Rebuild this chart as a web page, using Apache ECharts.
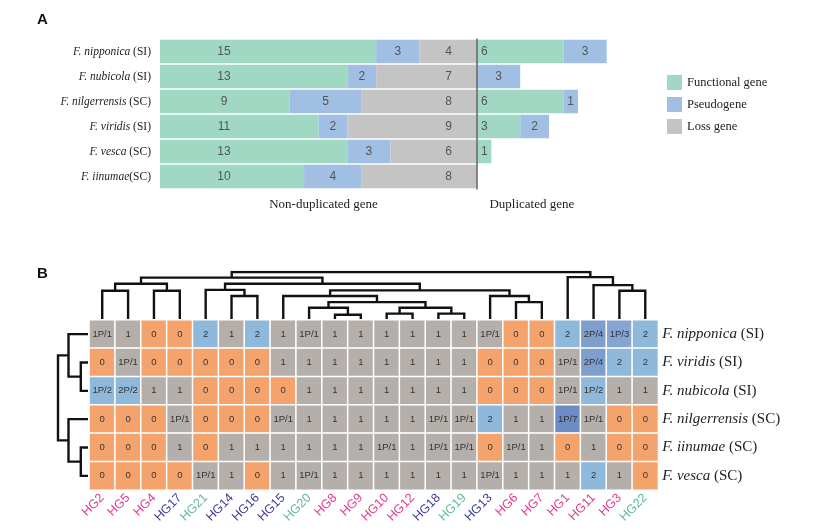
<!DOCTYPE html>
<html><head><meta charset="utf-8">
<script src="https://cdn.jsdelivr.net/npm/echarts@6/dist/echarts.min.js"></script>
<style>html,body{margin:0;padding:0;background:#fff}#c{width:815px;height:531px}</style>
</head><body><div id="c"></div>
<script>
// ---------- Panel A data ----------
const speciesA = ['F. nipponica (SI)', 'F. nubicola (SI)', 'F. nilgerrensis (SC)', 'F. viridis (SI)', 'F. vesca (SC)', 'F. iinumae(SC)'];
const nonDupFunctional = [15, 13, 9, 11, 13, 10];
const nonDupPseudo = [3, 2, 5, 2, 3, 4];
const nonDupLoss = [4, 7, 8, 9, 6, 8];
const dupFunctional = [6, 0, 6, 3, 1, 0];
const dupPseudo = [3, 3, 1, 2, 0, 0];
const legendNames = ['Functional gene', 'Pseudogene', 'Loss gene'];

// ---------- Panel B data ----------
const hgLabels = ['HG2','HG5','HG4','HG17','HG21','HG14','HG16','HG15','HG20','HG8','HG9','HG10','HG12','HG18','HG19','HG13','HG6','HG7','HG1','HG11','HG3','HG22'];
const hgGroup = ['p','p','p','n','g','n','n','n','g','p','p','p','p','n','g','n','p','p','p','p','p','g'];
const speciesB = ['F. nipponica (SI)', 'F. viridis (SI)', 'F. nubicola (SI)', 'F. nilgerrensis (SC)', 'F. iinumae (SC)', 'F. vesca (SC)'];
const rowNipponica    = ['1P/1','1','0','0','2','1','2','1','1P/1','1','1','1','1','1','1','1P/1','0','0','2','2P/4','1P/3','2'];
const rowViridis      = ['0','1P/1','0','0','0','0','0','1','1','1','1','1','1','1','1','0','0','0','1P/1','2P/4','2','2'];
const rowNubicola     = ['1P/2','2P/2','1','1','0','0','0','0','1','1','1','1','1','1','1','0','0','0','1P/1','1P/2','1','1'];
const rowNilgerrensis = ['0','0','0','1P/1','0','0','0','1P/1','1','1','1','1','1','1P/1','1P/1','2','1','1','1P/7','1P/1','0','0'];
const rowIinumae      = ['0','0','0','1','0','1','1','1','1','1','1','1P/1','1','1P/1','1P/1','0','1P/1','1','0','1','0','0'];
const rowVesca        = ['0','0','0','0','1P/1','1','0','1','1P/1','1','1','1','1','1','1','1P/1','1','1','1','2','1','0'];
const cellRows = [rowNipponica, rowViridis, rowNubicola, rowNilgerrensis, rowIinumae, rowVesca];

// column dendrogram merges: [child, child, height]; leaves 0..21, merged nodes numbered from 22
const colMerges = [
  [9,10,0.9],[11,12,1.15],[13,14,1.15],[8,22,2.4],[23,24,2.4],[25,26,3.6],[16,17,3.6],
  [7,27,4.9],[15,28,4.9],[5,6,4.9],[0,1,6.0],[2,3,6.0],[20,21,6.0],[29,30,6.1],
  [4,31,6.2],[19,34,7.2],[32,33,7.5],[36,35,7.5],[38,39,8.8],[18,37,8.9],[40,41,10]
];
// row dendrogram merges: leaves 0..5, merged nodes from 6
const rowMerges = [[1,2,2.4],[4,5,2.4],[0,6,6.5],[3,7,6.5],[8,9,10]];

// ---------- helpers ----------
const C_FUN = '#a0d8c4', C_PSE = '#a1bfe2', C_LOSS = '#c4c4c4';
function dendroLines(merges, nLeaves, horizontal) {
  const pos = [], ht = [];
  for (let i = 0; i < nLeaves; i++) { pos.push(i); ht.push(0); }
  const out = [];
  merges.forEach(m => {
    const [a, b, h] = m;
    const pa = pos[a], pb = pos[b];
    const pts = [[pa, ht[a]], [pa, h], [pb, h], [pb, ht[b]]];
    out.push({coords: horizontal ? pts.map(p => [p[1], p[0]]) : pts});
    pos.push((pa + pb) / 2); ht.push(h);
  });
  return out;
}
function countOf(s) { return s.indexOf('/') >= 0 ? +s.split('/')[1] : +s; }
const heatData = [];
cellRows.forEach((row, r) => row.forEach((s, c) => heatData.push([c, r, countOf(s), s])));
const groupColor = {p: '#e2378f', n: '#3a3c98', g: '#5dbb92'};

const serif = 'Liberation Serif';
function speciesRich(size) {
  return {
    formatter: v => { const i = v.search(/\s?\(/); return '{i|' + v.slice(0, i) + '}{n|' + v.slice(i) + '}'; },
    rich: {
      i: {fontFamily: serif, fontStyle: 'italic', fontSize: size, color: '#222'},
      n: {fontFamily: serif, fontSize: size, color: '#222'}
    }
  };
}
const hiddenVal = (g, extra) => Object.assign({type: 'value', gridIndex: g, show: false, splitLine: {show: false}}, extra || {});
const barLabel = (pos, extra) => Object.assign({show: true, position: pos, color: '#555', fontSize: 12, fontFamily: 'Liberation Sans',
  formatter: p => p.value ? p.value : ''}, extra || {});

const chart = echarts.init(document.getElementById('c'));
chart.setOption({
  animation: false,
  title: [
    {text: 'A', left: 32, top: 7, textStyle: {fontSize: 15, fontWeight: 'bold', color: '#111', fontFamily: 'Liberation Sans'}},
    {text: 'B', left: 32, top: 261, textStyle: {fontSize: 15, fontWeight: 'bold', color: '#111', fontFamily: 'Liberation Sans'}}
  ],
  legend: {
    orient: 'vertical', left: 662, top: 70, itemWidth: 15, itemHeight: 15, itemGap: 7, icon: 'rect',
    data: legendNames, textStyle: {fontFamily: serif, fontSize: 12.5, color: '#222'}
  },
  grid: [
    {left: 160, top: 39, width: 317, height: 150},
    {left: 477, top: 39, width: 129.7, height: 150},
    {left: 89.3, top: 272, width: 568.9, height: 47},
    {left: 58, top: 320, width: 30, height: 170},
    {left: 89.3, top: 320, width: 568.9, height: 170}
  ],
  xAxis: [
    {type: 'value', gridIndex: 0, min: 0, max: 22, axisLine: {show: false}, axisTick: {show: false}, axisLabel: {show: false}, splitLine: {show: false},
     name: 'Non-duplicated gene', nameLocation: 'middle', nameGap: 9, nameTextStyle: {fontFamily: serif, fontSize: 13, color: '#222', padding: [0, 0, 0, 10]}},
    {type: 'value', gridIndex: 1, min: 0, max: 9, axisLine: {show: false}, axisTick: {show: false}, axisLabel: {show: false}, splitLine: {show: false},
     name: 'Duplicated gene', nameLocation: 'middle', nameGap: 9, nameTextStyle: {fontFamily: serif, fontSize: 13, color: '#222', padding: [0, 20, 0, 0]}},
    hiddenVal(2, {min: -0.5, max: 21.5}),
    hiddenVal(3, {min: 0, max: 10, inverse: true}),
    {type: 'category', gridIndex: 4, data: hgLabels, axisLine: {show: false}, axisTick: {show: false},
     axisLabel: {rotate: 45, margin: 6, fontSize: 12.5, fontFamily: 'Liberation Sans', interval: 0,
       color: (v, i) => groupColor[hgGroup[hgLabels.indexOf(v)]]}}
  ],
  yAxis: [
    Object.assign({type: 'category', gridIndex: 0, data: speciesA, inverse: true, axisLine: {show: false}, axisTick: {show: false}},
      {axisLabel: Object.assign({margin: 9}, speciesRich(11.5))}),
    {type: 'category', gridIndex: 1, data: speciesA, inverse: true, z: 10, axisTick: {show: false}, axisLabel: {show: false},
     axisLine: {show: true, lineStyle: {color: '#666', width: 1.5}}},
    hiddenVal(2, {min: 0, max: 10}),
    hiddenVal(3, {min: -0.5, max: 5.5, inverse: true}),
    Object.assign({type: 'category', gridIndex: 4, data: speciesB, inverse: true, position: 'right', axisLine: {show: false}, axisTick: {show: false}},
      {axisLabel: Object.assign({margin: 4}, speciesRich(15))})
  ],
  visualMap: {
    show: false, type: 'piecewise', seriesIndex: 7, dimension: 2,
    pieces: [
      {value: 0, color: '#f5a36c'}, {value: 1, color: '#b4afab'}, {value: 2, color: '#8fb9da'},
      {value: 3, color: '#85a6d2'}, {value: 4, color: '#7e9ecd'}, {value: 7, color: '#6d8cc6'}
    ]
  },
  series: [
    {name: legendNames[0], type: 'bar', stack: 'nd', xAxisIndex: 0, yAxisIndex: 0, data: nonDupFunctional, barCategoryGap: '6%',
     itemStyle: {color: C_FUN}, label: barLabel([64, '50%'], {align: 'center', verticalAlign: 'middle'})},
    {name: legendNames[1], type: 'bar', stack: 'nd', xAxisIndex: 0, yAxisIndex: 0, data: nonDupPseudo, barCategoryGap: '6%',
     itemStyle: {color: C_PSE}, label: barLabel('inside')},
    {name: legendNames[2], type: 'bar', stack: 'nd', xAxisIndex: 0, yAxisIndex: 0, data: nonDupLoss, barCategoryGap: '6%',
     itemStyle: {color: C_LOSS}, label: barLabel('insideRight', {distance: 25})},
    {name: legendNames[0], type: 'bar', stack: 'd', xAxisIndex: 1, yAxisIndex: 1, data: dupFunctional, barCategoryGap: '6%',
     itemStyle: {color: C_FUN}, label: barLabel('insideLeft', {distance: 4})},
    {name: legendNames[1], type: 'bar', stack: 'd', xAxisIndex: 1, yAxisIndex: 1, data: dupPseudo, barCategoryGap: '6%',
     itemStyle: {color: C_PSE}, label: barLabel('inside')},
    {type: 'lines', coordinateSystem: 'cartesian2d', xAxisIndex: 2, yAxisIndex: 2, polyline: true, silent: true,
     lineStyle: {color: '#111', width: 2.4, opacity: 1}, data: dendroLines(colMerges, hgLabels.length, false)},
    {type: 'lines', coordinateSystem: 'cartesian2d', xAxisIndex: 3, yAxisIndex: 3, polyline: true, silent: true,
     lineStyle: {color: '#111', width: 2.4, opacity: 1}, data: dendroLines(rowMerges, speciesB.length, true)},
    {type: 'heatmap', xAxisIndex: 4, yAxisIndex: 4, data: heatData,
     itemStyle: {borderColor: '#fff', borderWidth: 1.5},
     label: {show: true, formatter: p => p.value[3], color: '#333', fontSize: 9.5, fontFamily: 'Liberation Sans'}}
  ]
});
</script></body></html>
